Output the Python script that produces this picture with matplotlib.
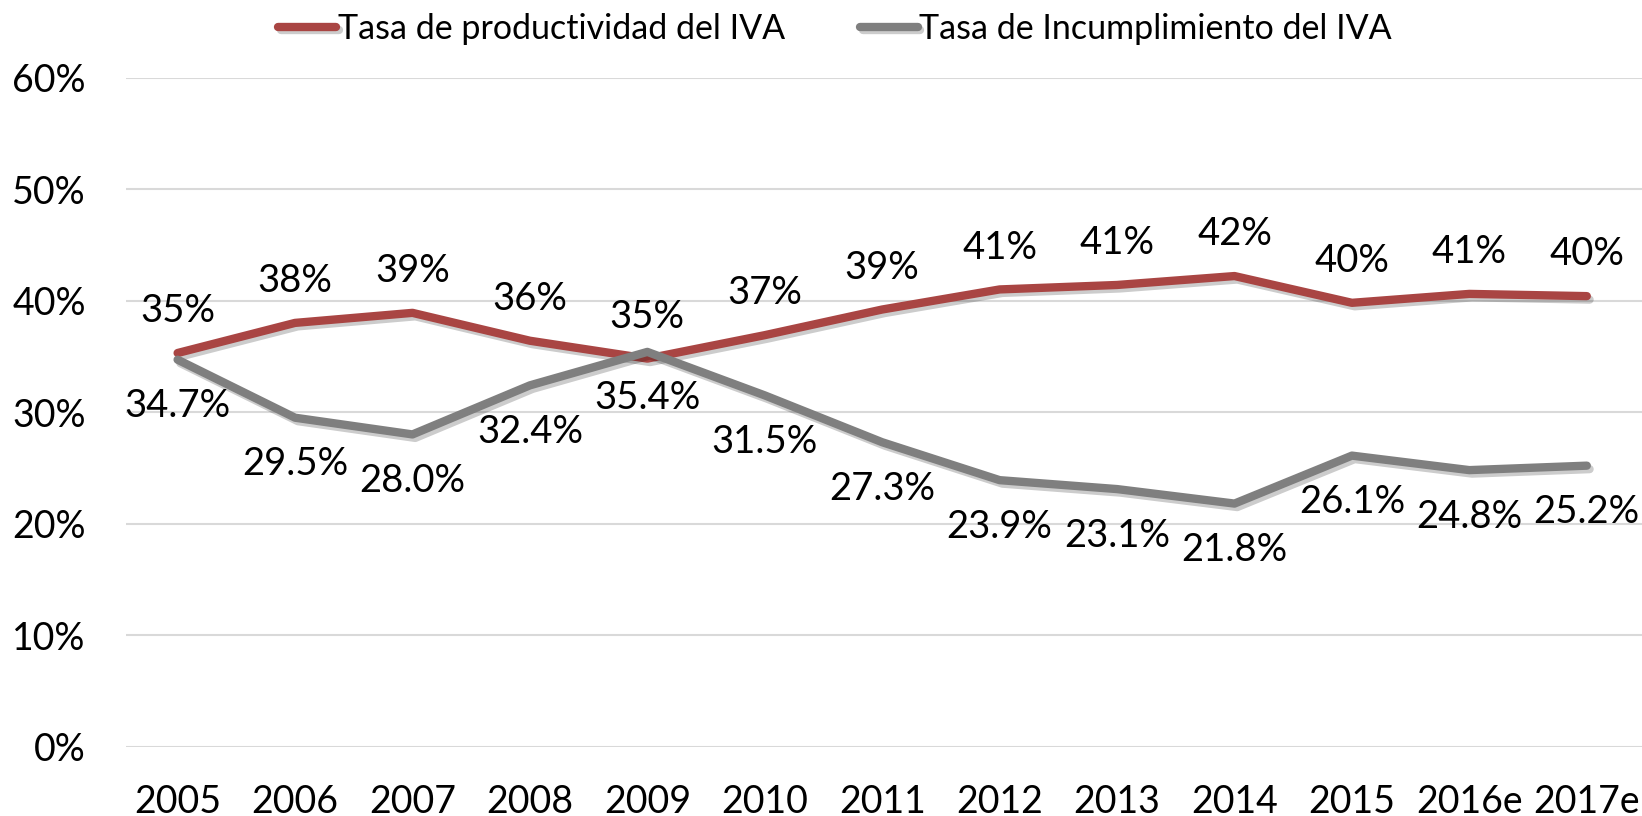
import matplotlib
matplotlib.use("Agg")
import matplotlib.pyplot as plt
import matplotlib.patheffects as pe
from matplotlib.ticker import FuncFormatter

years = ["2005", "2006", "2007", "2008", "2009", "2010", "2011", "2012",
         "2013", "2014", "2015", "2016e", "2017e"]
productividad = [35.3, 38.0, 38.9, 36.4, 34.8, 36.9, 39.2, 41.0, 41.4, 42.2, 39.8, 40.6, 40.4]
productividad_labels = ["35%", "38%", "39%", "36%", "35%", "37%", "39%", "41%",
                        "41%", "42%", "40%", "41%", "40%"]
incumplimiento = [34.7, 29.5, 28.0, 32.4, 35.4, 31.5, 27.3, 23.9, 23.1, 21.8, 26.1, 24.8, 25.2]
yticks = [0, 10, 20, 30, 40, 50, 60]

plt.rcParams['font.family'] = ['Lato', 'DejaVu Sans']

fig = plt.figure(figsize=(16.42, 8.16), dpi=100)
ax = fig.add_axes([0.0767, 0.0849, 0.9233, 0.8201])

red = "#A94543"
gray = "#7F7F7F"
x = list(range(len(years)))
shadow = [pe.SimpleLineShadow(offset=(2, -2.5), shadow_color="black", alpha=0.2), pe.Normal()]

ax.plot(x, productividad, color=red, lw=6, solid_capstyle="round", solid_joinstyle="round",
        label="Tasa de productividad del IVA", path_effects=shadow, zorder=3)
ax.plot(x, incumplimiento, color=gray, lw=6, solid_capstyle="round", solid_joinstyle="round",
        label="Tasa de Incumplimiento del IVA", path_effects=shadow, zorder=3)

for i in x:
    ax.annotate(productividad_labels[i], (i, productividad[i]), xytext=(0, 30),
                textcoords="offset points", ha="center", va="center", fontsize=27.5)
    ax.annotate(f"{incumplimiento[i]:.1f}%", (i, incumplimiento[i]), xytext=(0, -33.5),
                textcoords="offset points", ha="center", va="center", fontsize=27.5)

ax.set_xlim(-0.44, 12.47)
ax.set_ylim(0, 60)
ax.set_yticks(yticks)
ax.yaxis.set_major_formatter(FuncFormatter(lambda v, p: f"{v:.0f}%"))
ax.set_xticks(x)
ax.set_xticklabels(years)
ax.tick_params(axis="both", length=0, labelsize=27)
ax.tick_params(axis="y", pad=29)
ax.tick_params(axis="x", pad=27)
ax.grid(axis="y", color="#D9D9D9", lw=1.5)
ax.set_axisbelow(True)
for s in ax.spines.values():
    s.set_visible(False)

leg = fig.legend(loc="center", bbox_to_anchor=(0.5086, 0.965), ncol=2, frameon=False,
                 fontsize=24.5, handlelength=1.7, handletextpad=0.05, columnspacing=2.2)
for h in leg.get_lines():
    h.set_linewidth(6)
    h.set_solid_capstyle("round")

fig.savefig("out.png", dpi=100)
